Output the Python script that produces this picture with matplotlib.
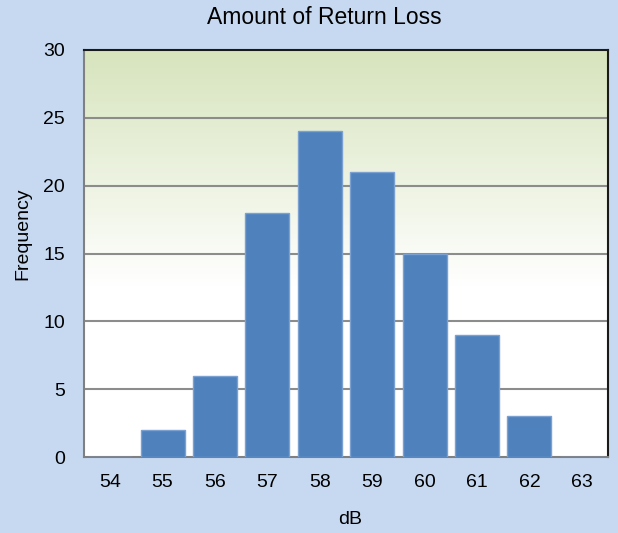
import matplotlib
matplotlib.use("Agg")
import matplotlib.pyplot as plt
import numpy as np
from matplotlib.colors import LinearSegmentedColormap

plt.rcParams['font.family'] = ['Liberation Sans', 'DejaVu Sans']

bins = ["54", "55", "56", "57", "58", "59", "60", "61", "62", "63"]
freq = [0, 2, 6, 18, 24, 21, 15, 9, 3, 0]

fig = plt.figure(figsize=(6.18, 5.33), dpi=100, facecolor="#C6D9F1")
ax = fig.add_axes([84 / 618, 76 / 533, 524 / 618, 407 / 533])

# gradient background: green at top fading to white about halfway down
cmap = LinearSegmentedColormap.from_list("bg", [(0, "#FFFFFF"), (0.42, "#FFFFFF"), (1, "#D7E4BD")])
grad = np.linspace(0, 1, 256).reshape(-1, 1)
ax.imshow(grad, cmap=cmap, origin="lower", aspect="auto", extent=[0, 1, 0, 1],
          transform=ax.transAxes, zorder=0)

x = np.arange(len(bins))
ax.bar(x, freq, width=0.84, color="#4F81BD", edgecolor="#7BA1D2", linewidth=1, zorder=3)

ax.set_xlim(-0.5, len(bins) - 0.5)
ax.set_ylim(0, 30)
ax.set_yticks(range(0, 31, 5))
ax.set_xticks(x)
ax.set_xticklabels(bins)
ax.tick_params(axis="both", length=0, labelsize=14, colors="black")
ax.tick_params(axis="x", pad=12)
ax.tick_params(axis="y", pad=13.5)

for v in range(5, 30, 5):
    ax.axhline(v, color="#8C8C8C", linewidth=1.5, zorder=1)

for side in ["left", "bottom"]:
    ax.spines[side].set_color("#808080")
    ax.spines[side].set_linewidth(1.5)
for side in ["top", "right"]:
    ax.spines[side].set_color("#1A1A1A")
    ax.spines[side].set_linewidth(1.5)

fig.text(324 / 618, 1 - 17 / 533, "Amount of Return Loss", fontsize=16.5, ha="center", va="center")
fig.text(350 / 618, 1 - 520 / 533, "dB", fontsize=14, ha="center", va="center")
fig.text(23 / 618, 1 - 234 / 533, "Frequency", fontsize=14, rotation=90, ha="center", va="center")

fig.savefig("out.png", dpi=100, facecolor=fig.get_facecolor())
